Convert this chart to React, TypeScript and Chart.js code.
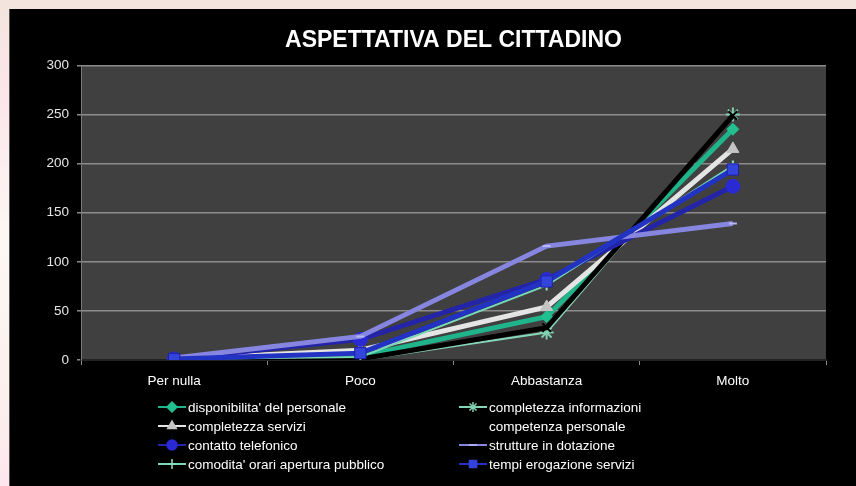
import React, { useEffect, useRef } from "react";
import { Chart, registerables } from "chart.js";
import { drawPoint } from "chart.js/helpers";

Chart.register(...registerables);

const chartTitle = "ASPETTATIVA DEL CITTADINO";
const categories = ["Per nulla", "Poco", "Abbastanza", "Molto"];
const yTickValues = [0, 50, 100, 150, 200, 250, 300];

const seriesNames = [
  "disponibilita' del personale",
  "completezza informazioni",
  "completezza servizi",
  "competenza personale",
  "contatto telefonico",
  "strutture in dotazione",
  "comodita' orari apertura pubblico",
  "tempi erogazione servizi",
];

const disponibilita = [1, 4, 44, 235];
const completezzaInformazioni = [0, 0, 28, 250];
const completezzaServizi = [1, 10, 54, 215];
const competenzaPersonale = [0, 1, 33, 249];
const contattoTelefonico = [1, 21, 82, 177];
const struttureDotazione = [2, 24, 116, 139];
const comoditaOrari = [1, 3, 76, 198];
const tempiErogazione = [1, 7, 80, 194];

const seriesValues = [
  disponibilita,
  completezzaInformazioni,
  completezzaServizi,
  competenzaPersonale,
  contattoTelefonico,
  struttureDotazione,
  comoditaOrari,
  tempiErogazione,
];

// styles (not data)
const lineColors = ["#1fb48a", "#86d6b8", "#e4e4e4", "#000000", "#2424a8", "#8686e0", "#7ad8b4", "#2233c4"];
const markerColors = ["#22c090", "#7fcfb0", "#c4c4c4", "#000000", "#2a2ad4", "#b8b8f4", "#8ee0c0", "#3344dd"];
const markerStyles = ["rectRot", "star", "triangle", "crossRot", "circle", "line", "cross", "rect"];
const markerRadius = [6, 7, 7, 6, 7, 4, 5, 8];
const lineWidths = [5, 2, 5, 5, 5, 5, 2, 5];

const FONT = "'Liberation Sans', Arial, sans-serif";

export default function App() {
  const ref = useRef<HTMLCanvasElement | null>(null);

  useEffect(() => {
    if (!ref.current) return;

    const bgPlugin = {
      id: "plotBg",
      beforeDraw(chart: any) {
        const { ctx, chartArea } = chart;
        ctx.save();
        ctx.fillStyle = "#404040";
        ctx.fillRect(chartArea.left, chartArea.top, chartArea.right - chartArea.left, chartArea.bottom - chartArea.top);
        ctx.restore();
      },
    };

    const legendPlugin = {
      id: "gridLegend",
      afterDraw(chart: any) {
        const ctx = chart.ctx;
        const colX = [148, 449];
        const rowY = [398, 417, 436, 455];
        ctx.save();
        seriesNames.forEach((name, i) => {
          const x = colX[i % 2];
          const y = rowY[Math.floor(i / 2)];
          ctx.strokeStyle = lineColors[i];
          ctx.lineWidth = 2;
          ctx.beginPath();
          ctx.moveTo(x, y);
          ctx.lineTo(x + 28, y);
          ctx.stroke();
          ctx.fillStyle = markerColors[i];
          ctx.strokeStyle = markerColors[i];
          ctx.lineWidth = 1.5;
          drawPoint(ctx, { pointStyle: markerStyles[i], radius: Math.min(markerRadius[i], 5), rotation: 0, borderWidth: 1.5 } as any, x + 14, y);
          ctx.fillStyle = "#ffffff";
          ctx.font = `13.5px ${FONT}`;
          ctx.textBaseline = "middle";
          ctx.textAlign = "left";
          ctx.fillText(name, x + 30, y + 1);
        });
        ctx.restore();
      },
    };

    const chart = new Chart(ref.current, {
      type: "line",
      data: {
        labels: categories,
        datasets: seriesValues.map((vals, i) => ({
          label: seriesNames[i],
          data: vals,
          borderColor: lineColors[i],
          backgroundColor: markerColors[i],
          borderWidth: lineWidths[i],
          pointStyle: markerStyles[i] as any,
          pointRadius: markerRadius[i],
          pointBackgroundColor: markerColors[i],
          pointBorderColor: i === 7 ? "#2020a0" : markerColors[i],
          pointBorderWidth: markerStyles[i] === "star" || markerStyles[i] === "cross" || markerStyles[i] === "crossRot" || markerStyles[i] === "line" ? 2 : 1,
          tension: 0,
          fill: false,
          order: seriesNames.length - i,
        })),
      },
      options: {
        animation: false,
        responsive: false,
        maintainAspectRatio: false,
        layout: { padding: { top: 18, left: 0, right: 30, bottom: 86 } },
        plugins: {
          legend: { display: false },
          tooltip: { enabled: false },
          title: {
            display: true,
            fullSize: false,
            text: chartTitle,
            color: "#ffffff",
            font: { family: FONT, size: 23, weight: "bold", lineHeight: 1.15 },
            padding: { top: 0, bottom: 12 },
          },
        },
        scales: {
          x: {
            offset: true,
            grid: {
              offset: true,
              drawOnChartArea: false,
              drawTicks: true,
              tickLength: 5,
              color: "#8c8c8c",
              lineWidth: 1,
            },
            border: { display: true, color: "#222222", width: 2 },
            ticks: { color: "#ffffff", font: { family: FONT, size: 13.5 }, padding: 8 },
            afterFit(scale: any) {
              scale.height = 40;
            },
          },
          y: {
            min: 0,
            max: 300,
            afterBuildTicks(scale: any) {
              scale.ticks = yTickValues.map((v) => ({ value: v }));
            },
            grid: {
              color: "#8c8c8c",
              lineWidth: 1.5,
              drawTicks: true,
              tickLength: 4,
            },
            border: { display: true, color: "#7a7a7a", width: 1 },
            ticks: { color: "#e6e6e6", font: { family: FONT, size: 13.5 }, padding: 8 },
            afterFit(scale: any) {
              scale.width = 71;
            },
          },
        },
      },
      plugins: [bgPlugin, legendPlugin],
    });

    return () => chart.destroy();
  }, []);

  return (
    <div
      style={{
        position: "fixed",
        left: 0,
        top: 0,
        width: 856,
        height: 486,
        background: "linear-gradient(to bottom, #f3e4dc 0%, #fbe6ea 20%, #fdf8f4 50%, #fbf0ec 80%, #fde6ee 100%)",
        overflow: "hidden",
      }}
    >
      <div style={{ position: "absolute", left: 9, top: 9, width: 847, height: 477, background: "#000000", borderLeft: "1px solid #555", boxSizing: "border-box" }}>
        <canvas ref={ref} width={846} height={477} style={{ display: "block", width: 846, height: 477 }} />
      </div>
    </div>
  );
}
